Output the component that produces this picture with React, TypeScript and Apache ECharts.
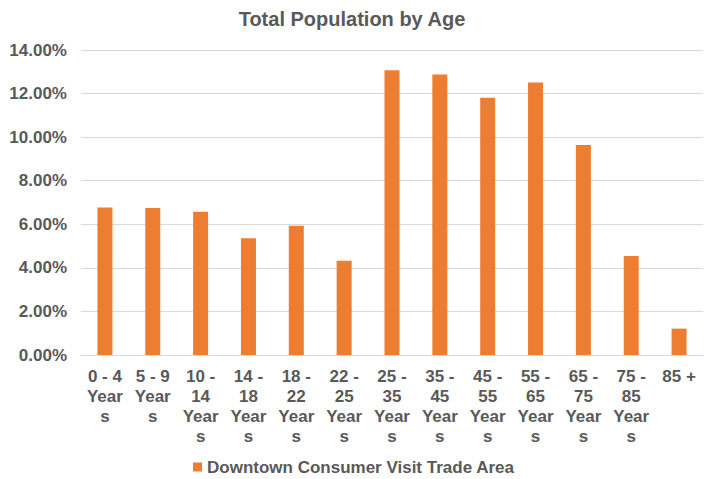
import React, { useEffect, useRef } from "react";
import * as echarts from "echarts";

const categories = [
  "0 - 4\nYear\ns",
  "5 - 9\nYear\ns",
  "10 -\n14\nYear\ns",
  "14 -\n18\nYear\ns",
  "18 -\n22\nYear\ns",
  "22 -\n25\nYear\ns",
  "25 -\n35\nYear\ns",
  "35 -\n45\nYear\ns",
  "45 -\n55\nYear\ns",
  "55 -\n65\nYear\ns",
  "65 -\n75\nYear\ns",
  "75 -\n85\nYear\ns",
  "85 +",
];

const seriesName = "Downtown Consumer Visit Trade Area";
const values = [6.77, 6.75, 6.58, 5.36, 5.93, 4.33, 13.07, 12.88, 11.81, 12.51, 9.64, 4.55, 1.21];

const FONT = "Arial, 'Liberation Sans', Helvetica, sans-serif";
const TEXT = "#595959";

export default function App() {
  const ref = useRef<HTMLDivElement>(null);
  useEffect(() => {
    if (!ref.current) return;
    const chart = echarts.init(ref.current, null, { renderer: "svg" });
    chart.setOption({
      animation: false,
      backgroundColor: "#ffffff",
      title: {
        text: "Total Population by Age",
        left: "center",
        top: 4,
        textStyle: { fontFamily: FONT, fontSize: 20, fontWeight: "bold", color: TEXT },
      },
      legend: {
        left: 193,
        top: 458,
        padding: 0,
        itemWidth: 9,
        itemHeight: 9,
        icon: "rect",
        textStyle: { fontFamily: FONT, fontSize: 17, fontWeight: "bold", color: TEXT, lineHeight: 18 },
        data: [seriesName],
      },
      grid: { left: 81, right: 1, top: 50, bottom: 124, containLabel: false },
      xAxis: {
        type: "category",
        data: categories,
        axisLine: { show: true, lineStyle: { color: "#D9D9D9", width: 1 } },
        axisTick: { show: false },
        axisLabel: {
          interval: 0,
          margin: 11,
          fontFamily: FONT,
          fontSize: 17,
          fontWeight: "bold",
          color: TEXT,
          lineHeight: 20,
          verticalAlign: "top",
        },
      },
      yAxis: {
        type: "value",
        min: 0,
        max: 14,
        interval: 2,
        axisLine: { show: false },
        axisTick: { show: false },
        splitLine: { lineStyle: { color: "#D9D9D9", width: 1 } },
        axisLabel: {
          margin: 14,
          fontFamily: FONT,
          fontSize: 17,
          fontWeight: "bold",
          color: TEXT,
          formatter: (v: number) => v.toFixed(2) + "%",
        },
      },
      series: [
        {
          name: seriesName,
          type: "bar",
          data: values,
          barWidth: 15,
          itemStyle: { color: "#ED7D31" },
        },
      ],
    });
    return () => chart.dispose();
  }, []);
  return <div ref={ref} style={{ width: 704, height: 479, position: "absolute", left: 0, top: 0 }} />;
}
